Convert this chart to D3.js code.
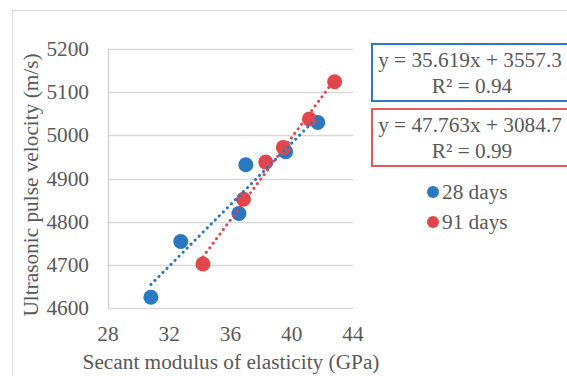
<html>
<head>
<script src="https://cdn.jsdelivr.net/npm/d3@7"></script>
<style>
body{margin:0;padding:0;overflow:hidden;background:white;}
svg text{font-family:"Liberation Serif","Times New Roman",Times,serif;}
</style>
</head>
<body>
<div id="chart"></div>
<script>
// data
const days28X = [30.8, 32.75, 36.55, 37.0, 39.6, 41.7];
const days28Y = [4625, 4754, 4819, 4932, 4962, 5030];
const days91X = [34.2, 36.85, 38.3, 39.45, 41.15, 42.8];
const days91Y = [4702, 4852, 4938, 4972, 5038, 5124];
const xTicks = [28, 32, 36, 40, 44];
const yTicks = [4600, 4700, 4800, 4900, 5000, 5100, 5200];
const fits = [
  {name:"28 days", slope:35.619, icept:3557.3, r2:"0.94", xs:days28X, ys:days28Y, color:"#2a78bf", box:"#2e7bc0"},
  {name:"91 days", slope:47.763, icept:3084.7, r2:"0.99", xs:days91X, ys:days91Y, color:"#e0474c", box:"#e05a5a"}
];

var width = 567, height = 376;
var fs = 21.3;
var svg = d3.select("#chart").append("svg").attr("width", width).attr("height", height)
  .attr("font-family","'Liberation Serif', 'Times New Roman', serif");

// chart frame (cropped at right/bottom)
svg.append("rect").attr("x",12.5).attr("y",10.5).attr("width",600).attr("height",400)
  .attr("fill","white").attr("stroke","#d9d9d9");

var x = d3.scaleLinear().domain([28,44]).range([108,353]);
var y = d3.scaleLinear().domain([4600,5200]).range([308,49]);
var grey = "#595959";

// gridlines
svg.append("g").selectAll("line").data(yTicks).enter().append("line")
  .attr("x1",x(28)).attr("x2",x(44))
  .attr("y1",d=>Math.round(y(d))+0.5).attr("y2",d=>Math.round(y(d))+0.5)
  .attr("stroke","#d9d9d9").attr("stroke-width",1.3);
svg.append("line").attr("x1",x(28)+0.5).attr("x2",x(28)+0.5).attr("y1",y(5200)).attr("y2",y(4600))
  .attr("stroke","#d0d0d0").attr("stroke-width",1.3);

// tick labels
svg.append("g").selectAll("text").data(yTicks).enter().append("text")
  .attr("x",89).attr("y",d=>y(d)+7).attr("text-anchor","end")
  .attr("font-size",fs).attr("fill",grey).text(d=>d);
svg.append("g").selectAll("text").data(xTicks).enter().append("text")
  .attr("x",d=>x(d)).attr("y",341).attr("text-anchor","middle")
  .attr("font-size",fs).attr("fill",grey).text(d=>d);

// axis titles
svg.append("text").attr("x",231).attr("y",369).attr("text-anchor","middle")
  .attr("font-size",fs).attr("fill",grey).text("Secant modulus of elasticity (GPa)");
svg.append("text").attr("transform","translate(38,185) rotate(-90)").attr("text-anchor","middle")
  .attr("font-size",fs).attr("fill",grey).text("Ultrasonic pulse velocity (m/s)");

// points
fits.forEach(f=>{
  svg.append("g").selectAll("circle").data(f.xs).enter().append("circle")
    .attr("cx",d=>x(d)).attr("cy",(d,i)=>y(f.ys[i])).attr("r",7.5)
    .attr("fill",f.color);
});

// trendlines (drawn over the markers)
fits.forEach(f=>{
  var x0 = d3.min(f.xs), x1 = d3.max(f.xs);
  svg.append("line")
    .attr("x1",x(x0)).attr("y1",y(f.slope*x0+f.icept))
    .attr("x2",x(x1)).attr("y2",y(f.slope*x1+f.icept))
    .attr("stroke",f.color).attr("stroke-width",3)
    .attr("stroke-linecap","round").attr("stroke-dasharray","0.1 5.6");
});

// equation boxes
fits.forEach((f,i)=>{
  var top = 44 + i*65;
  svg.append("rect").attr("x",372).attr("y",top).attr("width",210).attr("height",57)
    .attr("fill","white").attr("stroke",f.box).attr("stroke-width",2);
  svg.append("text").attr("x",470).attr("y",top+23).attr("text-anchor","middle")
    .attr("font-size",fs).attr("fill",grey)
    .text("y = "+f.slope+"x + "+f.icept);
  svg.append("text").attr("x",472).attr("y",top+49).attr("text-anchor","middle")
    .attr("font-size",fs).attr("fill",grey)
    .text("R² = "+f.r2);
});

// legend
fits.forEach((f,i)=>{
  var cy = 192 + i*30;
  svg.append("circle").attr("cx",433).attr("cy",cy).attr("r",6).attr("fill",f.color);
  svg.append("text").attr("x",442).attr("y",cy+7).attr("font-size",fs).attr("fill",grey).text(f.name);
});
</script>
</body>
</html>
